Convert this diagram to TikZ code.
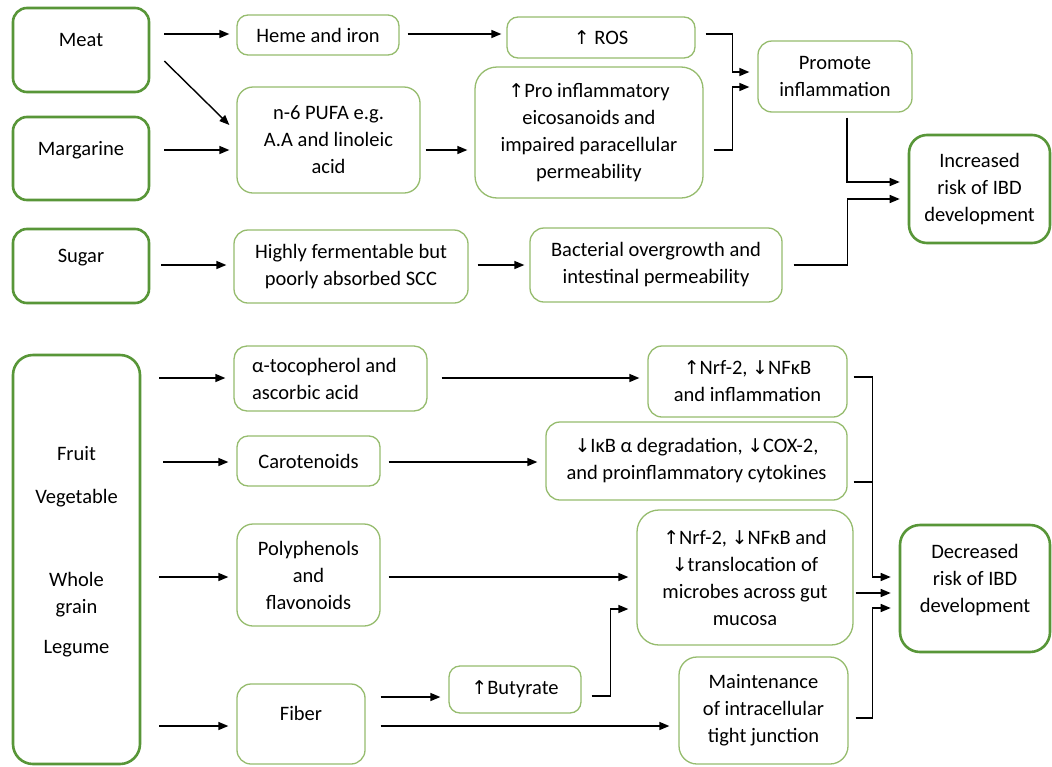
\documentclass[tikz,border=0pt]{standalone}
\usepackage{fontspec}
\setmainfont{Carlito}
\newfontfamily\arrowfont{DejaVu Sans}
\usetikzlibrary{arrows.meta,calc}
\newcommand{\uarr}{{\arrowfont\fontsize{19}{27}\selectfont ↑}}
\newcommand{\darr}{{\arrowfont\fontsize{19}{27}\selectfont ↓}}
\definecolor{darkg}{RGB}{88,150,56}
\definecolor{lightg}{RGB}{150,188,110}
\begin{document}
\begin{tikzpicture}[x=1pt,y=-1pt,
  every node/.style={font=\fontsize{20.5}{27}\selectfont},
  bx/.style={draw=lightg, line width=1.3pt, rounded corners=11pt, align=center, inner sep=0pt},
  tbx/.style={draw=darkg, line width=2.6pt, rounded corners=14pt, align=center, inner sep=0pt},
  arr/.style={-{Triangle[length=10pt,width=8pt]}, line width=1.4pt},
  ln/.style={line width=1.4pt}]
\fill[white] (0,0) rectangle (1052,766);
\useasboundingbox (0,0) rectangle (1052,766);

% ---------- upper part ----------
\node[tbx, minimum width=136pt, minimum height=84pt, label={[yshift=10pt]center:Meat}] (meat) at (81,50) {};
\node[tbx, minimum width=136pt, minimum height=83pt, label={[yshift=8.5pt]center:Margarine}] (marg) at (81,158.5) {};
\node[tbx, minimum width=136pt, minimum height=74pt, label={[yshift=8pt]center:Sugar}] (sugar) at (81,266) {};

\node[bx, minimum width=162pt, minimum height=40pt] (heme) at (318,35) {Heme and iron};
\node[bx, minimum width=183pt, minimum height=106pt, rounded corners=16pt] (pufa) at (328.5,140) {n-6 PUFA e.g.\\A.A and linoleic\\acid};
\node[bx, minimum width=234pt, minimum height=73pt, rounded corners=14pt] (highly) at (351,266.5) {Highly fermentable but\\poorly absorbed SCC};

\node[bx, minimum width=188pt, minimum height=41pt] (ros) at (601,37.5) {\uarr\ ROS};
\node[bx, minimum width=228pt, minimum height=131pt, rounded corners=22pt] (pro) at (589,132.5) {\uarr Pro inflammatory\\eicosanoids and\\impaired paracellular\\permeability};
\node[bx, minimum width=252pt, minimum height=74pt, rounded corners=14pt] (bact) at (656,265) {Bacterial overgrowth and\\intestinal permeability};

\node[bx, minimum width=154pt, minimum height=71pt, rounded corners=14pt] (promote) at (835,76.5) {Promote\\inflammation};
\node[tbx, minimum width=141pt, minimum height=108pt, rounded corners=18pt] (incr) at (979.5,189) {Increased\\risk of IBD\\development};

% ---------- lower part ----------
\node[tbx, minimum width=127pt, minimum height=409pt, rounded corners=20pt,
  label={[yshift=7.5pt, align=center]center:Fruit\\[16pt]Vegetable\\[56pt]Whole\\grain\\[13pt]Legume}] (fvwl) at (76.5,559.5) {};

\node[bx, minimum width=193pt, minimum height=65pt, rounded corners=13pt, align=flush left, text width=157pt] (atoc) at (330.5,378.5) {α-tocopherol and\\ascorbic acid};
\node[bx, minimum width=143pt, minimum height=50pt] (carot) at (308.5,461) {Carotenoids};
\node[bx, minimum width=143pt, minimum height=102pt, rounded corners=16pt] (poly) at (308.5,575) {Polyphenols\\and\\flavonoids};
\node[bx, minimum width=128pt, minimum height=80pt, rounded corners=14pt, label={[yshift=11pt]center:Fiber}] (fiber) at (301,724) {};
\node[bx, minimum width=132pt, minimum height=47pt] (buty) at (515,689.5) {\uarr Butyrate};

\node[bx, minimum width=199pt, minimum height=71pt, rounded corners=14pt] (nrft) at (747.5,381.5) {\uarr Nrf-2, \darr NFκB\\and inflammation};
\node[bx, minimum width=301pt, minimum height=78pt, rounded corners=14pt] (ikb) at (696.5,461) {\darr IκB α degradation, \darr COX-2,\\and proinflammatory cytokines};
\node[bx, minimum width=216pt, minimum height=135pt, rounded corners=22pt] (nrfb) at (745,577.5) {\uarr Nrf-2, \darr NFκB and\\\darr translocation of\\microbes across gut\\mucosa};
\node[bx, minimum width=169pt, minimum height=107pt, rounded corners=18pt] (maint) at (763.5,710.5) {Maintenance\\of intracellular\\tight junction};

\node[tbx, minimum width=150pt, minimum height=127pt, rounded corners=20pt,
  label={[yshift=8pt, align=center]center:Decreased\\risk of IBD\\development}] (decr) at (975,588.5) {};

% ---------- connectors, upper ----------
\draw[arr] ($(meat.east)+(14,-16)$) -- ($(heme.west)+(-7,-1)$);
\draw[arr] ($(meat.east)+(14,11)$) -- ($(pufa.west)+(-7,-15)$);
\draw[arr] ($(marg.east)+(14,-8.5)$) -- ($(pufa.west)+(-7,10)$);
\draw[arr] ($(heme.east)+(8,-1)$) -- ($(ros.west)+(-5,-3.5)$);
\draw[arr] ($(pufa.east)+(5,10)$) -- ($(pro.west)+(-7,17.5)$);
\draw[arr] ($(sugar.east)+(11,-1)$) -- ($(highly.west)+(-7,-1.5)$);
\draw[arr] ($(highly.east)+(9,-1.5)$) -- ($(bact.west)+(-5,0)$);
\draw[arr] ($(ros.east)+(10,-3.5)$) -- ++(27,0) |- ($(promote.west)+(-8,-4.5)$);
\draw[arr] ($(pro.east)+(10,17.5)$) -- ++(19,0) |- ($(promote.west)+(-8,10.5)$);
\draw[arr] ($(promote.south)+(12,5)$) |- ($(incr.west)+(-8,-7)$);
\draw[arr] ($(bact.east)+(11,0)$) -- ++(54,0) |- ($(incr.west)+(-8,10)$);

% ---------- connectors, lower ----------
\draw[arr] ($(fvwl.east)+(18,-181.5)$) -- ($(atoc.west)+(-8,-0.5)$);
\draw[arr] ($(fvwl.east)+(22,-97.5)$) -- ($(carot.west)+(-8,1)$);
\draw[arr] ($(fvwl.east)+(18,17.5)$) -- ($(poly.west)+(-8,2)$);
\draw[arr] ($(fvwl.east)+(18,166.5)$) -- ($(fiber.west)+(-8,2)$);
\draw[arr] ($(atoc.east)+(14,-0.5)$) -- ($(nrft.west)+(-8,-3.5)$);
\draw[arr] ($(carot.east)+(8,1)$) -- ($(ikb.west)+(-8,1)$);
\draw[arr] ($(poly.east)+(8,2)$) -- ($(nrfb.west)+(-8,-0.5)$);
\draw[arr] ($(fiber.east)+(15,-27)$) -- ($(buty.west)+(-8,7.5)$);
\draw[arr] ($(fiber.east)+(15,2)$) -- ($(maint.west)+(-9,15.5)$);
\draw[arr] ($(buty.east)+(10,6.5)$) -- ++(19,0) |- ($(nrfb.west)+(-8,31.5)$);
\draw[arr] ($(nrft.east)+(6,-4.5)$) -- ++(19,0) |- ($(decr.west)+(-8,-11.5)$);
\draw[ln] ($(ikb.east)+(6,21)$) -- ++(19,0);
\draw[arr] ($(nrfb.east)+(2,15.5)$) -- ($(decr.west)+(-8,4.5)$);
\draw[arr] ($(maint.east)+(7,7.5)$) -- ++(17,0) |- ($(decr.west)+(-8,19.5)$);
\end{tikzpicture}
\end{document}
